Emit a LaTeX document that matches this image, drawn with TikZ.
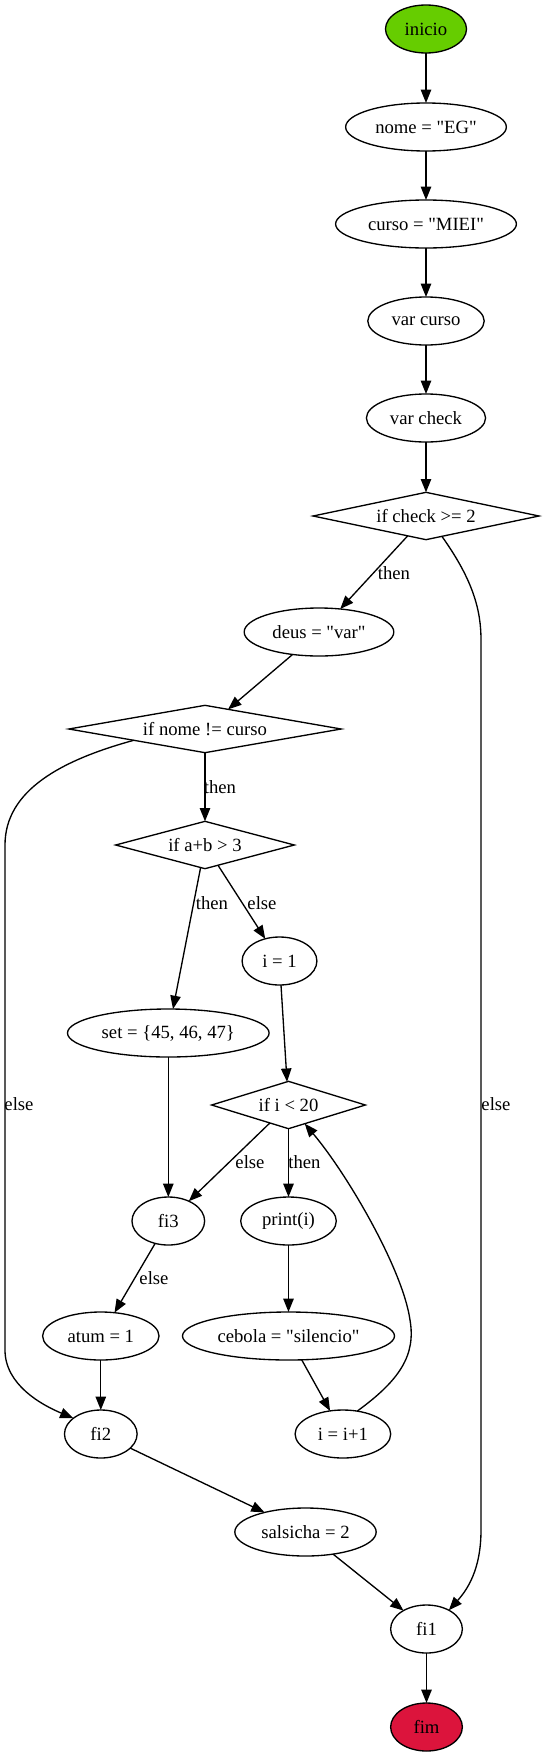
\documentclass[tikz,border=0pt]{standalone}
\usepackage{fontspec}
\setmainfont{Liberation Serif}[Ligatures=TeXOff]
\usetikzlibrary{shapes.geometric,arrows.meta}
\definecolor{gvgreen}{HTML}{66CD00}
\definecolor{gvcrimson}{HTML}{DC143C}
\newcommand\gvt[1]{\makebox[0pt]{#1}}
\begin{document}
\begin{tikzpicture}[x=0.75pt,y=-0.75pt,
  every node/.style={font=\fontsize{14}{16}\selectfont, inner sep=0pt, outer sep=0pt},
  ell/.style={draw, ellipse, line width=1pt, minimum height=36pt, minimum width=#1},
  dia/.style={draw, diamond, line width=1pt, minimum height=35.5pt, minimum width=#1},
  arr/.style={line width=1pt, -{Triangle[length=10pt,width=7.8pt]}},
  lbl/.style={}]
\useasboundingbox (0,0) rectangle (544,1756);
% nodes
\node[ell=60.8pt, fill=gvgreen] (inicio) at (426,29) {\gvt{inicio}};
\node[ell=120.5pt] (nome) at (426,127) {\gvt{nome = "EG"}};
\node[ell=135.6pt] (curso) at (426,224) {\gvt{curso = "MIEI"}};
\node[ell=87.3pt] (varcurso) at (426,321) {\gvt{var curso}};
\node[ell=89.4pt] (varcheck) at (426,418) {\gvt{var check}};
\node[dia=169.4pt] (check) at (426,516) {\gvt{if check >= 2}};
\node[ell=112.2pt] (deus) at (319,632) {\gvt{deus = "var"}};
\node[dia=204.2pt] (nomecurso) at (205,729) {\gvt{if nome != curso}};
\node[dia=134pt] (ab) at (205,845) {\gvt{if a+b > 3}};
\node[ell=56.1pt] (ione) at (279.5,961) {\gvt{i = 1}};
\node[ell=151.2pt] (set) at (168.3,1033) {\gvt{set = \{45, 46, 47\}}};
\node[dia=115.3pt] (lt) at (288.5,1105) {\gvt{if i < 20}};
\node[ell=54.5pt] (fithree) at (168.3,1221) {\gvt{fi3}};
\node[ell=71.7pt] (print) at (288.5,1221) {\gvt{print(i)}};
\node[ell=87.3pt] (atum) at (100.8,1336) {\gvt{atum = 1}};
\node[ell=159pt] (cebola) at (288.5,1336) {\gvt{cebola = "silencio"}};
\node[ell=54.5pt] (fitwo) at (100.8,1434) {\gvt{fi2}};
\node[ell=71.7pt] (inc) at (342.9,1434) {\gvt{i = i+1}};
\node[ell=106pt] (salsicha) at (305.5,1532) {\gvt{salsicha = 2}};
\node[ell=53.8pt] (fione) at (426.5,1629) {\gvt{fi1}};
\node[ell=53.8pt, fill=gvcrimson] (fim) at (426.5,1727) {\gvt{fim}};
% edges
\draw[arr] (inicio) -- (nome);
\draw[arr] (nome) -- (curso);
\draw[arr] (curso) -- (varcurso);
\draw[arr] (varcurso) -- (varcheck);
\draw[arr] (varcheck) -- (check);
\draw[arr] (check) -- (deus);
\draw[arr] (check.-52) .. controls (473,580) and (481,610) .. (481,640) -- (481,1530) .. controls (481,1570) and (467,1590) .. (fione.40);
\draw[arr] (deus) -- (nomecurso);
\draw[arr] (nomecurso) -- (ab);
\draw[arr] (nomecurso.-171) .. controls (62,760) and (5,790) .. (5,845) -- (5,1350) .. controls (5,1385) and (42,1405) .. (fitwo.150);
\draw[arr] (ab) -- (set);
\draw[arr] (ab) -- (ione);
\draw[arr] (set) -- (fithree);
\draw[arr] (ione) -- (lt);
\draw[arr] (lt) -- (fithree);
\draw[arr] (lt) -- (print);
\draw[arr] (print) -- (cebola);
\draw[arr] (fithree) -- (atum);
\draw[arr] (atum) -- (fitwo);
\draw[arr] (cebola) -- (inc);
\draw[arr] (inc.58) .. controls (400,1380) and (416,1355) .. (410,1320) .. controls (403,1270) and (348,1175) .. (lt.-49);
\draw[arr] (fitwo) -- (salsicha);
\draw[arr] (salsicha) -- (fione);
\draw[arr] (fione) -- (fim);
% labels
\node[lbl] (l1) at (394,573) {then};
\node[lbl] (l2) at (496,1104) {else};
\node[lbl] (l3) at (220,787) {then};
\node[lbl] (l4) at (19,1104) {else};
\node[lbl] (l5) at (212,903) {then};
\node[lbl] (l6) at (262,903) {else};
\node[lbl] (l7) at (250,1162) {else};
\node[lbl] (l8) at (304.5,1162) {then};
\node[lbl] (l9) at (154,1278) {else};
\end{tikzpicture}
\end{document}
